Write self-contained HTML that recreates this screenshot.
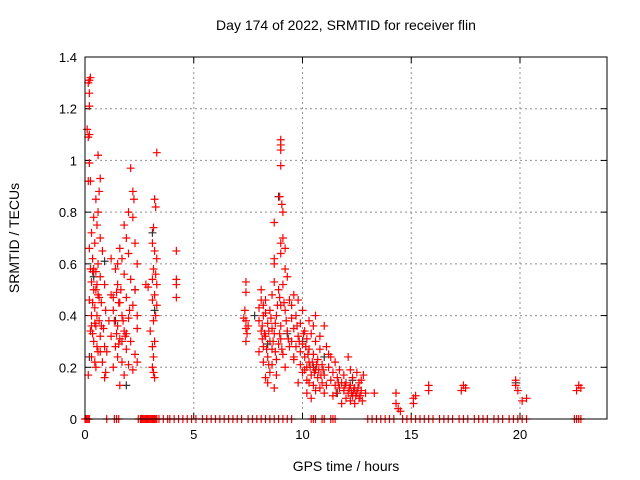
<!DOCTYPE html>
<html><head><meta charset="utf-8"><style>
body{margin:0;background:#fff;}
svg{display:block;font-family:"Liberation Sans",sans-serif;}
</style></head><body>
<svg id="chart" width="640" height="480" viewBox="0 0 640 480">
<text x="346" y="30" font-size="14" text-anchor="middle">Day 174 of 2022, SRMTID for receiver flin</text>
<text x="346" y="471" font-size="14" text-anchor="middle">GPS time / hours</text>
<text transform="translate(19,238) rotate(-90)" font-size="14" text-anchor="middle">SRMTID / TECUs</text>
<g id="grid"></g>
<g id="ticks"></g>
<g id="marks"></g>
<rect x="85" y="57" width="522" height="362" fill="none" stroke="#000" stroke-width="1"/>
</svg>
<script>
const xTicks=[0,5,10,15,20];
const yTicks=[0,0.2,0.4,0.6,0.8,1,1.2,1.4];
const yTickLabels=["0","0.2","0.4","0.6","0.8","1","1.2","1.4"];
const redPoints=[
[0.2,1.31],[0.15,1.30],[0.25,1.32],[0.2,1.26],[0.2,1.21],[0.1,1.12],[0.2,1.10],[0.15,1.09],[0.2,0.99],[0.15,0.92],[0.25,0.92],[0.6,1.02],[0.7,0.93],[0.65,0.88],[0.5,0.85],[0.6,0.80],[0.4,0.78],[0.55,0.75],[0.3,0.72],[0.7,0.70],[0.45,0.68],[0.2,0.66],[0.8,0.65],[0.35,0.62],[0.6,0.60],[0.25,0.58],[0.5,0.57],[0.7,0.55],[0.3,0.53],[0.9,0.52],[0.4,0.50],[0.6,0.48],[0.2,0.46],[0.75,0.45],[0.45,0.43],[0.95,0.42],[0.3,0.40],[0.65,0.38],[0.5,0.36],[0.85,0.35],[0.25,0.34],[0.7,0.32],[0.4,0.30],[0.9,0.28],[0.6,0.26],[0.3,0.24],[0.8,0.22],[0.5,0.20],[0.95,0.18],[0.9,0.16],[0.15,0.17],
[0.35,0.57],[0.4,0.58],[0.55,0.52],[0.5,0.50],[0.65,0.47],[0.35,0.45],[0.55,0.40],[0.45,0.37],[0.75,0.36],[0.35,0.33],[0.55,0.28],[0.7,0.26],[0.45,0.22],[0.3,0.36],
[1.2,0.62],[1.5,0.60],[1.8,0.75],[2.1,0.97],[2.2,0.88],[2.25,0.85],[2.0,0.80],[2.2,0.78],[1.9,0.70],[2.3,0.68],[1.6,0.66],[2.0,0.64],[1.7,0.62],[2.4,0.60],[1.4,0.58],[1.8,0.56],[2.1,0.54],[1.5,0.52],[2.3,0.50],[1.2,0.48],[1.9,0.47],[1.6,0.45],[2.2,0.44],[1.3,0.42],[1.7,0.40],[2.0,0.39],[1.1,0.38],[1.5,0.36],[2.4,0.35],[1.8,0.34],[1.2,0.32],[1.6,0.31],[2.1,0.30],[1.4,0.28],[1.9,0.27],[1.0,0.26],[2.3,0.25],[1.5,0.24],[1.7,0.22],[2.0,0.21],[1.3,0.20],[2.2,0.19],[1.8,0.17],[1.6,0.13],[2.4,0.22],[2.4,0.40],
[1.3,0.47],[1.45,0.49],[1.55,0.45],[1.35,0.38],[1.75,0.38],[1.85,0.32],[1.45,0.33],[1.55,0.29],[1.7,0.30],[1.9,0.33],[2.05,0.42],[1.65,0.50],
[3.3,1.03],[3.2,0.85],[3.25,0.82],[3.15,0.74],[3.1,0.68],[3.2,0.65],[3.3,0.62],[3.15,0.58],[3.25,0.56],[3.1,0.54],[3.3,0.52],[2.9,0.51],[3.2,0.48],[3.1,0.46],[3.3,0.44],[3.25,0.40],[3.15,0.38],[3.2,0.30],[3.1,0.28],[3.15,0.24],[3.1,0.20],[3.15,0.18],[3.2,0.16],[2.8,0.52],[3.0,0.34],
[4.2,0.65],[4.2,0.54],[4.2,0.52],[4.2,0.47],
[7.4,0.53],[7.4,0.49],[7.35,0.42],[7.3,0.39],[7.4,0.38],[7.4,0.35],[7.45,0.33],[7.4,0.30],[7.5,0.36],
[9.0,1.08],[9.0,1.06],[9.0,1.04],[9.0,0.98],[8.95,0.86],[9.05,0.83],[9.1,0.80],[8.7,0.76],[9.1,0.70],[9.0,0.68],[9.2,0.66],[9.0,0.64],[8.7,0.62],[8.7,0.60],[9.2,0.58],[9.3,0.55],[8.7,0.53],[9.1,0.52],[8.9,0.50],[8.1,0.50],[8.6,0.48],[9.4,0.46],[8.3,0.46],[9.0,0.44],[8.0,0.43],[8.5,0.42],[9.2,0.42],[8.2,0.40],[8.8,0.40],[9.5,0.39],[8.0,0.38],[8.4,0.37],[9.0,0.36],[8.6,0.35],[8.1,0.34],[9.3,0.34],[8.7,0.33],[8.3,0.32],[9.0,0.31],[8.5,0.30],[8.9,0.29],[8.2,0.28],[9.4,0.28],[8.6,0.27],[8.0,0.26],[9.1,0.25],[8.4,0.24],[8.8,0.23],[9.6,0.24],[8.2,0.22],[8.6,0.21],[9.2,0.20],[8.5,0.18],[8.8,0.17],[8.3,0.16],[8.4,0.14],[8.7,0.12],
[8.1,0.46],[8.2,0.44],[8.3,0.41],[8.15,0.36],[8.25,0.33],[8.45,0.34],[8.55,0.39],[8.75,0.37],[8.85,0.44],[8.95,0.47],[9.15,0.45],[9.25,0.38],[8.65,0.30],[8.35,0.27],[8.75,0.26],[9.05,0.27],[8.15,0.31],[8.95,0.33],[9.35,0.31],[8.45,0.21],
[9.6,0.48],[9.8,0.46],[9.5,0.44],[10.0,0.42],[9.7,0.40],[10.3,0.38],[9.9,0.37],[10.5,0.36],[9.6,0.35],[10.1,0.34],[10.4,0.33],[9.8,0.32],[10.2,0.31],[9.5,0.30],[10.6,0.30],[10.0,0.29],[9.7,0.28],[10.3,0.27],[10.8,0.27],[9.9,0.26],[10.5,0.25],[10.1,0.24],[9.6,0.23],[10.7,0.23],[10.3,0.22],[9.9,0.21],[10.9,0.21],[10.2,0.20],[10.6,0.19],[10.0,0.18],[10.4,0.17],[11.0,0.17],[10.7,0.16],[10.2,0.15],[10.9,0.14],[10.5,0.13],[11.1,0.13],[10.6,0.11],[11.0,0.10],[10.4,0.08],[10.2,0.10],[9.8,0.14],[11.1,0.28],[11.2,0.25],[10.8,0.32],[11.0,0.36],[10.6,0.40],
[9.75,0.36],[9.85,0.30],[10.05,0.33],[10.15,0.28],[10.25,0.25],[10.35,0.20],[10.45,0.22],[10.55,0.18],[10.65,0.21],[10.75,0.19],[10.85,0.17],[10.95,0.19],[10.1,0.19],[10.3,0.14],[10.8,0.12],
[11.3,0.24],[11.5,0.22],[11.2,0.20],[11.7,0.19],[11.4,0.18],[11.9,0.17],[11.6,0.16],[11.3,0.15],[11.8,0.14],[12.0,0.14],[11.5,0.13],[12.2,0.13],[11.7,0.12],[12.4,0.12],[11.9,0.11],[12.1,0.10],[12.5,0.10],[12.3,0.09],[12.0,0.08],[12.6,0.08],[12.2,0.07],[12.4,0.06],[11.8,0.06],[12.7,0.11],[12.7,0.15],[12.8,0.17],[12.6,0.14],[12.3,0.16],[12.2,0.19],[12.5,0.18],[12.9,0.10],[11.4,0.09],[13.3,0.10],[12.1,0.24],
[12.35,0.11],[12.45,0.09],[12.55,0.12],[12.65,0.09],[12.75,0.07],[12.25,0.10],[12.15,0.12],[11.95,0.13],[11.65,0.14],[11.55,0.10],
[14.3,0.10],[14.3,0.06],[14.4,0.04],[14.5,0.03],[15.1,0.08],[15.2,0.09],[15.1,0.06],[15.8,0.13],[15.8,0.11],[17.4,0.13],[17.3,0.11],[17.5,0.12],[19.8,0.13],[19.8,0.15],[19.9,0.11],[20.1,0.07],[20.3,0.08],[22.7,0.13],[22.6,0.11],[22.8,0.12]
];
const darkPoints=[[0.2,0.24],[0.4,0.55],[0.9,0.61],[1.4,0.38],[1.9,0.13],[2.3,0.50],[3.1,0.72],[3.2,0.42],[7.8,0.40],[8.4,0.29],[8.9,0.86],[9.3,0.33],[10.0,0.30],[10.5,0.20],[11.0,0.24],[11.6,0.10],[12.3,0.15],[19.8,0.14]];
const zeroHours=[0.0,0.05,0.1,0.15,0.2,1.35,1.45,1.55,1.0,2.45,2.55,2.6,2.65,2.7,2.75,2.8,2.85,2.9,2.95,3.0,3.05,3.1,3.15,3.2,3.25,3.3,3.4,3.6,3.8,3.9,4.1,4.3,4.5,4.7,4.9,5.1,5.4,5.6,5.8,6.0,6.2,6.4,6.6,6.8,7.0,7.2,7.5,7.7,7.9,8.1,8.3,8.5,8.7,8.9,9.1,9.3,9.5,10.4,10.5,10.6,10.9,11.0,11.3,11.4,11.5,13.0,13.2,13.4,13.6,13.8,14.0,14.2,14.6,14.8,15.0,15.2,15.4,15.6,15.8,16.0,16.3,16.5,16.7,16.9,17.2,17.4,17.6,17.9,18.1,18.3,18.5,18.8,19.0,19.2,19.5,19.7,19.9,20.1,20.3,22.5,22.6,22.7,22.8];
const X0=85,X1=607,Y0=419,Y1=57;
function sx(h){return X0+h*(X1-X0)/24;}
function sy(v){return Y0-v*(Y0-Y1)/1.4;}
const NS="http://www.w3.org/2000/svg";
const grid=document.getElementById('grid'),ticks=document.getElementById('ticks'),marks=document.getElementById('marks');
function mk(t,a,p){const e=document.createElementNS(NS,t);for(const k in a)e.setAttribute(k,a[k]);p.appendChild(e);return e;}
xTicks.forEach(h=>{
 if(h>0){const g=mk('line',{x1:sx(h),x2:sx(h),y1:Y0,y2:Y1,stroke:'#909090','stroke-dasharray':'2,3'},grid);
 
 }
 mk('line',{x1:sx(h),x2:sx(h),y1:Y0,y2:Y0-6,stroke:'#000'},ticks);
 mk('line',{x1:sx(h),x2:sx(h),y1:Y1,y2:Y1+6,stroke:'#000'},ticks);
 const t=mk('text',{x:sx(h),y:Y0+20,'font-size':13,'text-anchor':'middle'},ticks);t.textContent=h;
 
 
});
yTicks.forEach((v,i)=>{
 if(v>0&&v<1.4){const g=mk('line',{x1:X0,x2:X1,y1:sy(v),y2:sy(v),stroke:'#909090','stroke-dasharray':'2,3'},grid);
 
 }
 mk('line',{x1:X0,x2:X0+6,y1:sy(v),y2:sy(v),stroke:'#000'},ticks);
 mk('line',{x1:X1,x2:X1-6,y1:sy(v),y2:sy(v),stroke:'#000'},ticks);
 const t=mk('text',{x:X0-8,y:sy(v)+5,'font-size':13,'text-anchor':'end'},ticks);t.textContent=yTickLabels[i];
 
 
});
function plus(h,v,c,name){
 const x=sx(h),y=sy(v);
 const p=mk('path',{d:`M${x-4} ${y}h8M${x} ${y-4}v8`,stroke:c,'stroke-width':1.2,fill:'none'},marks);
 
 
}
darkPoints.forEach(d=>plus(d[0],d[1],'#333','dark-point'));
redPoints.forEach(d=>plus(d[0],d[1],'#ff0000','red-point'));
zeroHours.forEach(h=>plus(h,0,'#ff0000','zero-point'));
</script>
</body></html>
